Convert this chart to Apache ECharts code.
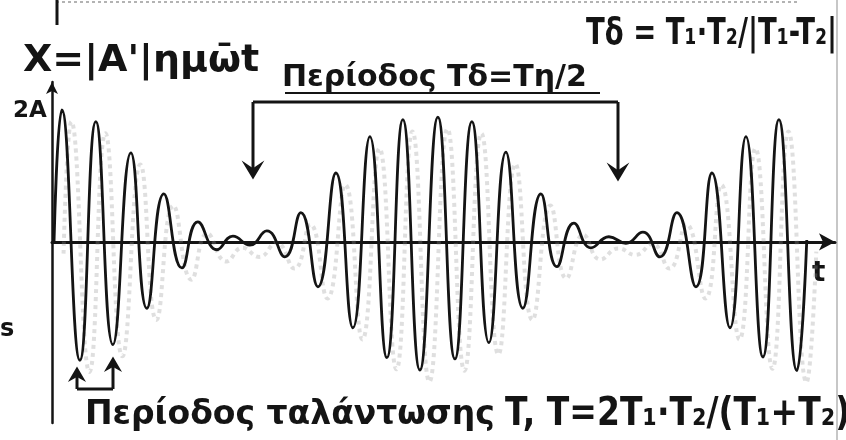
<!DOCTYPE html>
<html>
<head>
<meta charset="utf-8">
<script src="https://cdn.jsdelivr.net/npm/echarts@6/dist/echarts.min.js"></script>
<style>
  html, body { margin: 0; padding: 0; background: #ffffff; }
  #chart { width: 846px; height: 440px; }
</style>
</head>
<body>
<div id="chart"></div>
<script>
// Beats: x(t) = |A'| ημ(ω̄t), time in carrier periods T, displacement in units of A.
const startPoint = [0.06, 0];
const endPoint = [22.2, 0.03];

// Crests (upper turning points) of the oscillation
const crestTimes = [0.29, 1.29, 2.32, 3.29, 4.29, 5.32, 6.32, 7.32, 8.35, 9.35, 10.32,
  11.35, 12.35, 13.35, 14.38, 15.35, 16.38, 17.38, 18.38, 19.41, 20.41, 21.38];
const crestValues = [2.03, 1.85, 1.37, 0.74, 0.31, 0.09, 0.17, 0.45, 1.06, 1.62, 1.88,
  1.92, 1.85, 1.38, 0.74, 0.29, 0.08, 0.15, 0.45, 1.06, 1.62, 1.88];

// Troughs (lower turning points)
const troughTimes = [0.82, 1.79, 2.79, 3.82, 4.85, 5.82, 6.85, 7.82, 8.85, 9.85, 10.82,
  11.85, 12.85, 13.85, 14.85, 15.85, 16.88, 17.88, 18.94, 19.94, 20.91, 21.91];
const troughValues = [-1.82, -1.58, -1.02, -0.40, -0.12, -0.05, -0.23, -0.69, -1.32, -1.78, -1.97,
  -1.80, -1.55, -1.02, -0.38, -0.09, -0.02, -0.23, -0.69, -1.32, -1.77, -1.98];

// Merge turning points into one time-ordered trace
const trace = [startPoint];
crestTimes.forEach((t, i) => { trace.push([t, crestValues[i]]); });
troughTimes.forEach((t, i) => { trace.push([t, troughValues[i]]); });
trace.push(endPoint);
trace.sort((a, b) => a[0] - b[0]);

// Faint pencil shadow of the trace
const shadow = trace.map(p => [p[0] + 0.28, p[1] - 0.18]);

const INK = '#141414';
const HAND = '"DejaVu Sans"';

const chart = echarts.init(document.getElementById('chart'), null, { renderer: 'canvas' });

function arrowDown(x, y) {
  return { type: 'polygon', shape: { points: [[x - 9, y - 15], [x, y], [x + 9, y - 15], [x, y - 9]] },
    style: { fill: INK, stroke: INK, lineWidth: 1.5 } };
}
function arrowUp(x, y) {
  return { type: 'polygon', shape: { points: [[x - 7, y + 12], [x, y], [x + 7, y + 12], [x, y + 8]] },
    style: { fill: INK, stroke: INK, lineWidth: 1.5 } };
}
function line(x1, y1, x2, y2, w, color, dash) {
  return { type: 'line', shape: { x1, y1, x2, y2 },
    style: { stroke: color || INK, lineWidth: w || 3, lineDash: dash || null } };
}
// Hand-lettered text; sy stretches the glyphs vertically about their centre line
function text(str, x, y, size, sy) {
  return { type: 'text', x, y, scaleY: sy || 1,
    style: { text: str, fill: INK, font: 'bold ' + size + 'px ' + HAND, textVerticalAlign: 'middle' } };
}

chart.setOption({
  backgroundColor: '#ffffff',
  animation: false,
  grid: { left: 52, right: 11, top: 82, bottom: 17 },
  xAxis: {
    type: 'value', min: 0, max: 23.03,
    axisLine: { onZero: true, symbol: ['none', 'arrow'], symbolSize: [13, 16],
      lineStyle: { color: INK, width: 3 } },
    axisTick: { show: false }, axisLabel: { show: false }, splitLine: { show: false }
  },
  yAxis: {
    type: 'value', min: -2.785, max: 2.46,
    axisLine: { show: true, onZero: true, symbol: ['none', 'arrow'], symbolSize: [9, 12],
      lineStyle: { color: INK, width: 2.5 } },
    axisTick: { show: false }, axisLabel: { show: false }, splitLine: { show: false }
  },
  series: [
    {
      type: 'line', data: shadow, smooth: 0.5, symbol: 'none', silent: true, z: 1,
      lineStyle: { color: 'rgba(150,150,150,0.3)', width: 4, type: 'dotted' }
    },
    {
      type: 'line', data: trace, smooth: 0.5, symbol: 'none', z: 3,
      lineStyle: { color: INK, width: 2.8 }
    }
  ],
  graphic: [
    // page frame fragments
    line(56, 2, 800, 2, 1.5, '#9a9a9a', [3, 3]),
    line(57, 0, 57, 25, 3),
    line(837, 0, 837, 440, 1.5, '#b5b5b5'),
    // beat-period bracket
    line(253, 102, 618, 102, 3),
    line(253, 102, 253, 174, 3),
    line(618, 102, 618, 176, 3),
    arrowDown(253, 178),
    arrowDown(618, 180),
    // oscillation-period bracket
    line(77, 389, 113, 389, 3),
    line(77, 389, 77, 372, 3),
    line(113, 389, 113, 362, 3),
    arrowUp(77, 368),
    arrowUp(113, 358),
    // texts
    text('X=|A\'|ημω\u0304t', 23, 61, 38),
    text('Περίοδος Τδ=Τη/2', 282, 78, 30),
    line(285, 93, 600, 93, 2),
    text('Tδ = T₁·T₂/|T₁-T₂|', 586, 34, 27.5, 1.35),
    text('2A', 13, 111, 23),
    text('t', 812, 274, 28),
    text('s', 0, 330, 24),
    text('Περίοδος ταλάντωσης', 85, 415, 33),
    text('T, T=2T₁·T₂/(T₁+T₂)', 505, 415, 33, 1.2)
  ]
});
</script>
</body>
</html>
